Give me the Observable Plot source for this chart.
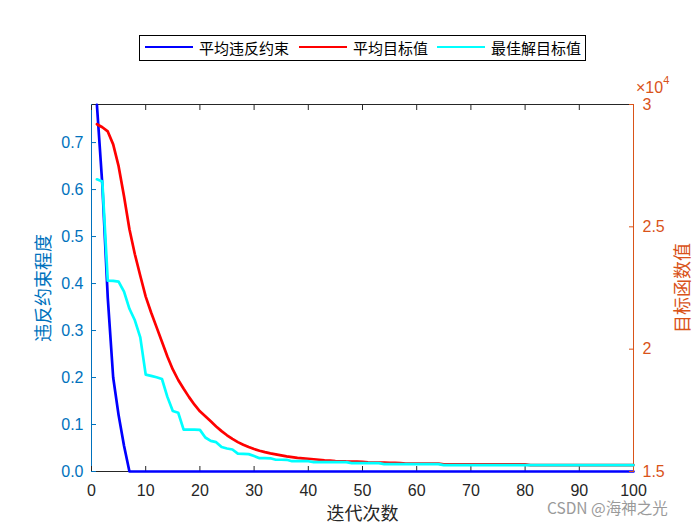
<!DOCTYPE html>
<html><head><meta charset="utf-8">
<script src="https://cdn.jsdelivr.net/npm/d3@7"></script>
<script src="https://cdn.jsdelivr.net/npm/@observablehq/plot@0.6"></script>
<style>
body{margin:0;background:#fff;}
#wrap{position:relative;width:700px;height:525px;overflow:hidden;background:#fff;}
#wrap svg{position:absolute;left:0;top:0;}
.cjk{font-family:"Noto Sans CJK SC","Noto Sans",sans-serif;}
.abs{position:absolute;white-space:nowrap;}
</style></head><body><div id="wrap"></div>
<script>
// ---- data ----
const iterations = d3.range(1, 101);
const violation = [0.78, 0.61, 0.37, 0.20, 0.12, 0.055, 0].concat(new Array(93).fill(0));
const avgObjective = [
  29194, 29070, 28900, 28370, 27480, 26250, 24900, 23880, 23000, 22150,
  21500, 20900, 20300, 19700, 19170, 18740, 18380, 18040, 17730, 17460,
  17260, 17050, 16840, 16650, 16480, 16330, 16200, 16090, 16000, 15920,
  15850, 15790, 15740, 15700, 15660, 15620, 15590, 15560, 15540, 15520,
  15500, 15480, 15460, 15445, 15430, 15420, 15410, 15405, 15400, 15395,
  15370, 15365, 15362, 15360, 15358, 15356, 15340, 15321, 15321, 15321,
  15321, 15321, 15321, 15321, 15290, 15290, 15290, 15290, 15290, 15290,
  15290, 15290, 15290, 15290, 15290, 15290, 15290, 15290, 15290, 15290,
  15262, 15262, 15262, 15262, 15262, 15262, 15262, 15262, 15262, 15262,
  15262, 15262, 15262, 15262, 15262, 15262, 15262, 15262, 15262, 15262
];
const bestObjective = [
  26940, 26850, 22800, 22790, 22760, 22350, 21650, 21180, 20480, 18960,
  18910, 18850, 18780, 18050, 17470, 17400, 16710, 16710, 16710, 16700,
  16390, 16250, 16200, 16000, 15940, 15900, 15730, 15720, 15710, 15630,
  15545, 15545, 15540, 15480, 15480, 15478, 15420, 15420, 15420, 15420,
  15382, 15382, 15382, 15382, 15382, 15382, 15382, 15341, 15341, 15341,
  15341, 15341, 15341, 15300, 15300, 15300, 15300, 15300, 15300, 15300,
  15300, 15300, 15300, 15300, 15260, 15260, 15260, 15260, 15260, 15260,
  15260, 15260, 15260, 15260, 15260, 15260, 15260, 15260, 15260, 15260,
  15260, 15260, 15260, 15260, 15260, 15260, 15260, 15260, 15260, 15260,
  15260, 15260, 15260, 15260, 15260, 15260, 15260, 15260, 15260, 15260
];
const xTicks = [0, 10, 20, 30, 40, 50, 60, 70, 80, 90, 100];
const leftTicks = [0, 0.1, 0.2, 0.3, 0.4, 0.5, 0.6, 0.7];
const rightTicks = [15000, 20000, 25000, 30000];
const xDomain = [0, 100];
const leftDomain = [0, 0.781];
const rightDomain = [15000, 30000];
const legendItems = [
  {name: "平均违反约束", color: "#0000FF"},
  {name: "平均目标值", color: "#FF0000"},
  {name: "最佳解目标值", color: "#00FFFF"}
];

const rows = iterations.map((it, i) => ({it, vio: violation[i], avg: avgObjective[i], best: bestObjective[i]}));

const common = {
  width: 700, height: 525,
  marginLeft: 91, marginRight: 67, marginTop: 104, marginBottom: 54,
  style: {background: "transparent", fontSize: "16px", fontFamily: "'Liberation Sans', Arial, sans-serif", overflow: "visible"}
};
const cjk = "'Noto Sans CJK SC', 'Noto Sans', sans-serif";

const leftPlot = Plot.plot({
  ...common,
  x: {domain: xDomain},
  y: {domain: leftDomain},
  marks: [
    Plot.ruleY([leftDomain[1]], {stroke: "#262626", strokeWidth: 1}),
    Plot.ruleY([0], {stroke: "#262626", strokeWidth: 1}),
    Plot.ruleX([0], {stroke: "#0072BD", strokeWidth: 1}),
    Plot.axisX({ticks: xTicks, anchor: "bottom", tickSize: -5, tickPadding: 18, color: "#262626", label: null}),
    Plot.axisX({ticks: xTicks, anchor: "top", tickSize: -5, tickFormat: () => "", color: "#262626", label: null}),
    Plot.axisY({ticks: leftTicks, anchor: "left", tickSize: -5, tickPadding: 13, color: "#0072BD", label: null}),
    Plot.line(rows, {x: "it", y: "vio", stroke: "#0000FF", strokeWidth: 2.7}),
    Plot.text(["迭代次数"], {text: d => d, frameAnchor: "bottom", lineAnchor: "middle", textAnchor: "middle", dy: 43, fill: "#262626", fontFamily: cjk, fontSize: 18}),
    Plot.text(["违反约束程度"], {text: d => d, frameAnchor: "left", textAnchor: "middle", lineAnchor: "middle", rotate: -90, dx: -47.5, fill: "#0072BD", fontFamily: cjk, fontSize: 18})
  ]
});

const rightPlot = Plot.plot({
  ...common,
  x: {domain: xDomain, axis: null},
  y: {domain: rightDomain},
  marks: [
    Plot.ruleX([xDomain[1]], {stroke: "#D95319", strokeWidth: 1}),
    Plot.axisY({ticks: rightTicks, anchor: "right", tickSize: -5, tickPadding: 14, color: "#D95319", label: null, tickFormat: d => String(d / 1e4)}),
    Plot.line(rows, {x: "it", y: "avg", stroke: "#FF0000", strokeWidth: 2.7}),
    Plot.line(rows, {x: "it", y: "best", stroke: "#00FFFF", strokeWidth: 2.7}),
    Plot.text(["目标函数值"], {text: d => d, frameAnchor: "right", textAnchor: "middle", lineAnchor: "middle", rotate: -90, dx: 49.5, fill: "#D95319", fontFamily: cjk, fontSize: 18})
  ]
});

const wrap = document.getElementById("wrap");
wrap.appendChild(leftPlot);
wrap.appendChild(rightPlot);

// exponent label
const expo = document.createElement("div");
expo.className = "abs";
expo.style.cssText = "left:636px;top:80px;font-size:16px;font-family:'Liberation Sans',Arial,sans-serif;color:#D95319;line-height:16px;";
expo.innerHTML = "×10<span style='font-size:11px;position:relative;top:-9px;'>4</span>";
wrap.appendChild(expo);

// legend
const box = document.createElement("div");
box.className = "abs";
box.style.cssText = "left:139px;top:35px;width:447px;height:26px;box-sizing:border-box;border:1px solid #000;background:#fff;";
wrap.appendChild(box);
const lineX = [145, 299, 437];
const textX = [199, 353, 491];
legendItems.forEach((item, i) => {
  const ln = document.createElement("div");
  ln.className = "abs";
  ln.style.cssText = `left:${lineX[i]}px;top:45.5px;width:48px;height:2.7px;background:${item.color};`;
  wrap.appendChild(ln);
  const tx = document.createElement("div");
  tx.className = "abs cjk";
  tx.style.cssText = `left:${textX[i]}px;top:39px;font-size:15px;line-height:18px;color:#000;`;
  tx.textContent = item.name;
  wrap.appendChild(tx);
});

// watermark
const wm = document.createElement("div");
wm.className = "abs cjk";
wm.style.cssText = "left:547px;top:500px;font-size:15.5px;line-height:14px;color:#9a9a9a;";
wm.textContent = "CSDN @海神之光";
wrap.appendChild(wm);
</script>
</body></html>
